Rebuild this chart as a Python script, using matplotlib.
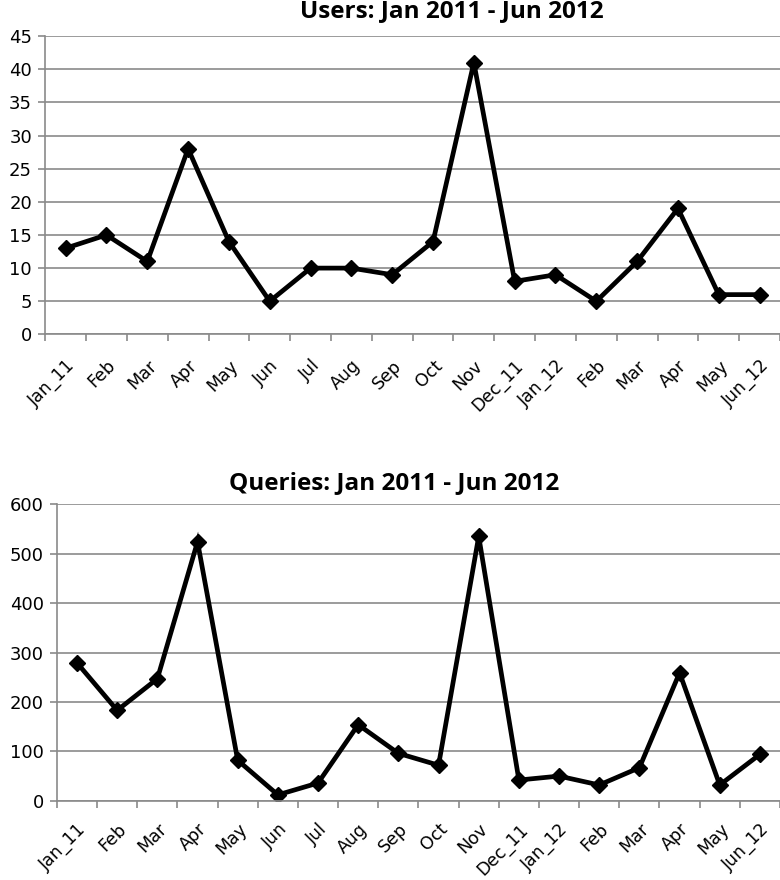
import numpy as np
import matplotlib
matplotlib.use('Agg')
import matplotlib.pyplot as plt

months = ['Jan_11', 'Feb', 'Mar', 'Apr', 'May', 'Jun', 'Jul', 'Aug', 'Sep',
          'Oct', 'Nov', 'Dec_11', 'Jan_12', 'Feb', 'Mar', 'Apr', 'May', 'Jun_12']
users = [13, 15, 11, 28, 14, 5, 10, 10, 9, 14, 41, 8, 9, 5, 11, 19, 6, 6]
queries = [279, 183, 247, 524, 82, 12, 36, 154, 96, 72, 535, 42, 50, 32, 67, 259, 32, 94]

grid_col = '#8a8a8a'

fig = plt.figure(figsize=(7.8, 8.8), dpi=100)
ax1 = fig.add_axes([0.058, 0.620, 0.942, 0.339])
ax2 = fig.add_axes([0.073, 0.090, 0.927, 0.337])

def style(ax, vals, ymax, step, title, pad, tx, xpad):
    x = np.arange(len(vals))
    ax.plot(x, vals, color='black', lw=3.4, marker='D', markersize=8.5,
            solid_joinstyle='miter')
    ax.set_xlim(-0.5, len(vals) - 0.5)
    ax.set_ylim(0, ymax)
    ax.set_yticks(np.arange(0, ymax + step, step))
    ax.set_xticks(x)
    ax.set_xticklabels(months, rotation=45, ha='right', rotation_mode='anchor',
                       fontsize=12.5)
    ax.set_xticks(np.arange(-0.5, len(vals), 1), minor=True)
    ax.tick_params(axis='x', which='major', length=0, pad=xpad)
    ax.tick_params(axis='x', which='minor', length=5, color=grid_col, width=1.2)
    ax.tick_params(axis='y', length=5, color=grid_col, width=1.2, labelsize=13, pad=4.5)
    ax.grid(axis='y', color=grid_col, lw=1.2)
    ax.set_axisbelow(True)
    for s in ['top', 'right']:
        ax.spines[s].set_visible(False)
    for s in ['left', 'bottom']:
        ax.spines[s].set_color(grid_col)
        ax.spines[s].set_linewidth(1.2)
    ax.set_title(title, fontsize=17.5, fontweight='bold', family='Open Sans',
                 pad=pad, x=tx)

style(ax1, users, 45, 5, 'Users: Jan 2011 - Jun 2012', 14, 0.554, 16)
style(ax2, queries, 600, 100, 'Queries: Jan 2011 - Jun 2012', 11, 0.466, 14)

fig.savefig('out.png', dpi=100)
